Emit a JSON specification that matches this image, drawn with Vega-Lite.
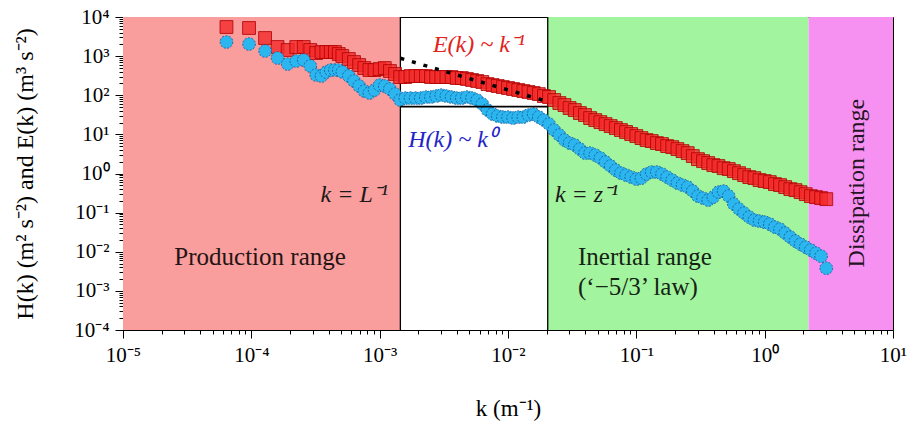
{
  "$schema": "https://vega.github.io/schema/vega-lite/v6.json",
  "width": 770,
  "height": 313,
  "autosize": "none",
  "padding": {"left": 123, "top": 17, "right": 14, "bottom": 101},
  "background": "white",
  "config": {
    "view": {"stroke": "black", "strokeWidth": 1},
    "axis": {
      "grid": false,
      "domainColor": "black",
      "tickColor": "black",
      "labelColor": "black",
      "titleColor": "black",
      "labelFont": "Liberation Serif",
      "titleFont": "Liberation Serif",
      "labelFontWeight": "normal",
      "titleFontWeight": "normal"
    },
    "style": {"guide-label": {"font": "Liberation Serif"}, "guide-title": {"font": "Liberation Serif"}}
  },
  "resolve": {"scale": {"x": "shared", "y": "shared"}, "axis": {"x": "independent", "y": "independent"}},
  "datasets": {
    "E": [{"k":6.4e-5,"v":5546},{"k":9.6e-5,"v":5234},{"k":1.28e-4,"v":2904},{"k":1.6e-4,"v":1710},{"k":1.92e-4,"v":1432},{"k":2.24e-4,"v":1710},{"k":2.56e-4,"v":1710},{"k":2.88e-4,"v":1432},{"k":3.2e-4,"v":1200},{"k":3.52e-4,"v":1274},{"k":3.84e-4,"v":1274},{"k":4.16e-4,"v":1274},{"k":4.48e-4,"v":1274},{"k":4.8e-4,"v":1132},{"k":5.12e-4,"v":1006},
      {"k":5.75e-4,"v":843},{"k":6.31e-4,"v":706},{"k":6.92e-4,"v":592},{"k":7.59e-4,"v":496},{"k":8.32e-4,"v":441},{"k":9.12e-4,"v":441},{"k":0.001,"v":468},{"k":0.001096,"v":496},{"k":0.001202,"v":416},{"k":0.001318,"v":349},{"k":0.001445,"v":292},{"k":0.001585,"v":292},{"k":0.001738,"v":310},{"k":0.001905,"v":310},{"k":0.002089,"v":310},{"k":0.002291,"v":310},{"k":0.002512,"v":292},{"k":0.002754,"v":292},{"k":0.00302,"v":292},{"k":0.003311,"v":292},{"k":0.003631,"v":292},{"k":0.003981,"v":275},{"k":0.004365,"v":275},{"k":0.004786,"v":260},{"k":0.005248,"v":245},{"k":0.005754,"v":231},{"k":0.00631,"v":218},{"k":0.006918,"v":193},{"k":0.007586,"v":182},{"k":0.008318,"v":172},{"k":0.00912,"v":162},{"k":0.01,"v":153},{"k":0.01096,"v":144},{"k":0.01202,"v":136},{"k":0.01318,"v":128},{"k":0.01445,"v":121},{"k":0.01585,"v":114},{"k":0.01738,"v":107},{"k":0.01905,"v":95.5},{"k":0.02089,"v":90},{"k":0.02291,"v":75.4},{"k":0.02512,"v":63.2},{"k":0.02754,"v":56.1},{"k":0.0302,"v":47.1},{"k":0.03311,"v":41.8},{"k":0.03631,"v":35.1},{"k":0.03981,"v":31.2},{"k":0.04365,"v":26.1},{"k":0.04786,"v":23.2},{"k":0.05248,"v":20.6},{"k":0.05754,"v":18.3},{"k":0.0631,"v":16.3},{"k":0.06918,"v":14.5},{"k":0.07586,"v":12.9},{"k":0.08318,"v":11.5},{"k":0.0912,"v":10.2},{"k":0.1,"v":9.06},{"k":0.1096,"v":8.04},{"k":0.1202,"v":7.15},{"k":0.1318,"v":6.74},{"k":0.1445,"v":5.99},{"k":0.1585,"v":5.65},{"k":0.1738,"v":5.02},{"k":0.1905,"v":4.73},{"k":0.2089,"v":4.21},{"k":0.2291,"v":3.74},{"k":0.2512,"v":3.32},{"k":0.2754,"v":2.79},{"k":0.302,"v":2.33},{"k":0.3311,"v":2.07},{"k":0.3631,"v":1.85},{"k":0.3981,"v":1.64},{"k":0.4365,"v":1.55},{"k":0.4786,"v":1.37},{"k":0.5248,"v":1.3},{"k":0.5754,"v":1.15},{"k":0.631,"v":1.02},{"k":0.6918,"v":0.91},{"k":0.7586,"v":0.809},{"k":0.8318,"v":0.762},{"k":0.912,"v":0.678},{"k":1.0,"v":0.64},{"k":1.096,"v":0.603},{"k":1.202,"v":0.536},{"k":1.318,"v":0.505},{"k":1.445,"v":0.449},{"k":1.585,"v":0.399},{"k":1.738,"v":0.376},{"k":1.905,"v":0.334},{"k":2.089,"v":0.297},{"k":2.291,"v":0.264},{"k":2.512,"v":0.249},{"k":2.754,"v":0.235},{"k":3.02,"v":0.221}],
    "H": [{"k":6.4e-5,"v":2296},{"k":9.6e-5,"v":2037},{"k":1.28e-4,"v":1350},{"k":1.6e-4,"v":894},{"k":1.92e-4,"v":628},{"k":2.24e-4,"v":750},{"k":2.56e-4,"v":794},{"k":2.88e-4,"v":558},{"k":3.2e-4,"v":329},{"k":3.52e-4,"v":310},{"k":3.84e-4,"v":392},{"k":4.16e-4,"v":441},{"k":4.48e-4,"v":441},{"k":4.8e-4,"v":441},{"k":5.12e-4,"v":392},
      {"k":5.75e-4,"v":310},{"k":6.31e-4,"v":231},{"k":6.92e-4,"v":172},{"k":7.59e-4,"v":128},{"k":8.32e-4,"v":114},{"k":9.12e-4,"v":136},{"k":0.001,"v":182},{"k":0.001096,"v":172},{"k":0.001202,"v":144},{"k":0.001318,"v":107},{"k":0.001445,"v":75.4},{"k":0.001585,"v":84.7},{"k":0.001738,"v":84.7},{"k":0.001905,"v":84.7},{"k":0.002089,"v":84.7},{"k":0.002291,"v":90},{"k":0.002512,"v":90},{"k":0.002754,"v":95.5},{"k":0.00302,"v":101},{"k":0.003311,"v":95.5},{"k":0.003631,"v":90},{"k":0.003981,"v":84.7},{"k":0.004365,"v":84.7},{"k":0.004786,"v":90},{"k":0.005248,"v":84.7},{"k":0.005754,"v":75.4},{"k":0.00631,"v":59.6},{"k":0.006918,"v":41.8},{"k":0.007586,"v":33},{"k":0.008318,"v":29.4},{"k":0.00912,"v":27.7},{"k":0.01,"v":27.7},{"k":0.01096,"v":26.1},{"k":0.01202,"v":27.7},{"k":0.01318,"v":27.7},{"k":0.01445,"v":31.2},{"k":0.01585,"v":33},{"k":0.01738,"v":27.7},{"k":0.01905,"v":23.2},{"k":0.02089,"v":18.3},{"k":0.02291,"v":12.9},{"k":0.02512,"v":9.6},{"k":0.02754,"v":7.15},{"k":0.0302,"v":5.99},{"k":0.03311,"v":5.32},{"k":0.03631,"v":4.21},{"k":0.03981,"v":3.32},{"k":0.04365,"v":3.32},{"k":0.04786,"v":2.96},{"k":0.05248,"v":2.48},{"k":0.05754,"v":1.96},{"k":0.0631,"v":1.55},{"k":0.06918,"v":1.22},{"k":0.07586,"v":1.02},{"k":0.08318,"v":0.91},{"k":0.0912,"v":0.809},{"k":0.1,"v":0.719},{"k":0.1096,"v":0.762},{"k":0.1202,"v":0.966},{"k":0.1318,"v":1.09},{"k":0.1445,"v":1.09},{"k":0.1585,"v":0.966},{"k":0.1738,"v":0.809},{"k":0.1905,"v":0.678},{"k":0.2089,"v":0.568},{"k":0.2291,"v":0.505},{"k":0.2512,"v":0.449},{"k":0.2754,"v":0.355},{"k":0.302,"v":0.264},{"k":0.3311,"v":0.235},{"k":0.3631,"v":0.209},{"k":0.3981,"v":0.249},{"k":0.4365,"v":0.334},{"k":0.4786,"v":0.355},{"k":0.5248,"v":0.264},{"k":0.5754,"v":0.165},{"k":0.631,"v":0.123},{"k":0.6918,"v":0.0971},{"k":0.7586,"v":0.0767},{"k":0.8318,"v":0.0643},{"k":0.912,"v":0.0607},{"k":1.0,"v":0.0571},{"k":1.096,"v":0.0508},{"k":1.202,"v":0.0426},{"k":1.318,"v":0.0378},{"k":1.445,"v":0.0299},{"k":1.585,"v":0.0236},{"k":1.738,"v":0.0187},{"k":1.905,"v":0.0156},{"k":2.089,"v":0.0131},{"k":2.291,"v":0.011},{"k":2.512,"v":0.0092},{"k":2.754,"v":0.0077},{"k":3.02,"v":0.0038}],
    "regions": [{"k1":1e-5,"k2":0.00145,"name":"Production"},{"k1":0.0204,"k2":2.2,"name":"Inertial"},{"k1":2.2,"k2":10,"name":"Dissipation"}],
    "bounds": [{"k":0.00145},{"k":0.0204}],
    "flat": [{"k":0.00145,"v":51},{"k":0.0204,"v":51}],
    "slope": [{"k":0.00145,"v":880},{"k":0.0204,"v":69}]
  },
  "layer": [
    {
      "data": {"name": "regions"},
      "mark": {"type": "rect"},
      "encoding": {
        "x": {"field": "k1", "type": "quantitative", "scale": {"type": "log", "domain": [1e-5, 10]}, "axis": null},
        "x2": {"field": "k2"},
        "y": {"datum": 0.0001, "type": "quantitative", "scale": {"type": "log", "domain": [0.0001, 10000]}, "axis": null},
        "y2": {"datum": 10000},
        "color": {"field": "name", "type": "nominal", "legend": null,
          "scale": {"domain": ["Production", "Inertial", "Dissipation"], "range": ["#f99d9d", "#a3f49e", "#f690f1"]}}
      }
    },
    {
      "data": {"name": "bounds"},
      "mark": {"type": "rule", "color": "black", "strokeWidth": 1.3},
      "encoding": {
        "x": {"field": "k", "type": "quantitative", "scale": {"type": "log", "domain": [1e-5, 10]}, "axis": null}
      }
    },
    {
      "data": {"name": "E"},
      "mark": {"type": "point", "shape": "square", "filled": true, "size": 165, "fill": "#f42a2a", "fillOpacity": 0.8, "stroke": "#b00000", "strokeWidth": 0.9, "strokeOpacity": 0.9},
      "encoding": {
        "x": {"field": "k", "type": "quantitative", "scale": {"type": "log", "domain": [1e-5, 10]},
          "axis": {
            "orient": "bottom",
            "title": "k (m⁻¹)",
            "values": [1e-5, 1e-4, 0.001, 0.01, 0.1, 1, 10],
            "labelExpr": "'10' + replace(replace(replace(replace(replace(replace(replace(''+round(log(datum.value)/LN10), '-', '⁻'), '0', '⁰'), '1', '¹'), '2', '²'), '3', '³'), '4', '⁴'), '5', '⁵')",
            "tickSize": 8,
            "labelFlush": false,
            "labelOverlap": false,
            "labelPadding": 6,
            "labelFont": "Liberation Serif",
            "titleFont": "Liberation Serif",
            "labelFontSize": 21,
            "titleFontSize": 23,
            "titlePadding": 32
          }
        },
        "y": {"field": "v", "type": "quantitative", "scale": {"type": "log", "domain": [0.0001, 10000]},
          "axis": {
            "orient": "left",
            "title": "H(k) (m² s⁻²) and E(k) (m³ s⁻²)",
            "values": [0.0001, 0.001, 0.01, 0.1, 1, 10, 100, 1000, 10000],
            "labelExpr": "'10' + replace(replace(replace(replace(replace(replace(replace(''+round(log(datum.value)/LN10), '-', '⁻'), '0', '⁰'), '1', '¹'), '2', '²'), '3', '³'), '4', '⁴'), '5', '⁵')",
            "tickSize": 8,
            "labelOverlap": false,
            "labelPadding": 6,
            "labelFont": "Liberation Serif",
            "titleFont": "Liberation Serif",
            "labelFontSize": 21,
            "titleFontSize": 24,
            "titlePadding": 36
          }
        }
      }
    },
    {
      "data": {"name": "H"},
      "mark": {"type": "point", "shape": "circle", "filled": true, "size": 160, "fill": "#2bb6ef", "fillOpacity": 1, "stroke": "#1b5c9c", "strokeWidth": 0.9, "strokeDash": [2, 1.5]},
      "encoding": {
        "x": {"field": "k", "type": "quantitative", "scale": {"type": "log", "domain": [1e-5, 10]},
          "axis": {
            "orient": "bottom",
            "title": null,
            "labels": false,
            "domain": false,
            "tickSize": 4,
            "values": [2e-5,3e-5,4e-5,5e-5,6e-5,7e-5,8e-5,9e-5,2e-4,3e-4,4e-4,5e-4,6e-4,7e-4,8e-4,9e-4,0.002,0.003,0.004,0.005,0.006,0.007,0.008,0.009,0.02,0.03,0.04,0.05,0.06,0.07,0.08,0.09,0.2,0.3,0.4,0.5,0.6,0.7,0.8,0.9,2,3,4,5,6,7,8,9]
          }
        },
        "y": {"field": "v", "type": "quantitative", "scale": {"type": "log", "domain": [0.0001, 10000]},
          "axis": {
            "orient": "left",
            "title": null,
            "labels": false,
            "domain": false,
            "tickSize": 4,
            "values": [0.0002,0.0003,0.0004,0.0005,0.0006,0.0007,0.0008,0.0009,0.002,0.003,0.004,0.005,0.006,0.007,0.008,0.009,0.02,0.03,0.04,0.05,0.06,0.07,0.08,0.09,0.2,0.3,0.4,0.5,0.6,0.7,0.8,0.9,2,3,4,5,6,7,8,9,20,30,40,50,60,70,80,90,200,300,400,500,600,700,800,900,2000,3000,4000,5000,6000,7000,8000,9000]
          }
        }
      }
    },
    {
      "data": {"name": "flat"},
      "mark": {"type": "line", "color": "black", "strokeWidth": 1.8},
      "encoding": {
        "x": {"field": "k", "type": "quantitative", "scale": {"type": "log", "domain": [1e-5, 10]}, "axis": null},
        "y": {"field": "v", "type": "quantitative", "scale": {"type": "log", "domain": [0.0001, 10000]}, "axis": null}
      }
    },
    {
      "data": {"name": "slope"},
      "mark": {"type": "line", "color": "black", "strokeWidth": 3.5, "strokeDash": [4, 8]},
      "encoding": {
        "x": {"field": "k", "type": "quantitative", "scale": {"type": "log", "domain": [1e-5, 10]}, "axis": null},
        "y": {"field": "v", "type": "quantitative", "scale": {"type": "log", "domain": [0.0001, 10000]}, "axis": null}
      }
    },
    {
      "data": {"values": [{"k": 0.00594, "v": 1923, "t": "E(k) ~ k⁻¹"}]},
      "mark": {"type": "text", "font": "Liberation Serif", "fontStyle": "italic", "fontSize": 24, "color": "#e3221c", "align": "center", "baseline": "middle"},
      "encoding": {
        "x": {"field": "k", "type": "quantitative", "scale": {"type": "log", "domain": [1e-5, 10]}, "axis": null},
        "y": {"field": "v", "type": "quantitative", "scale": {"type": "log", "domain": [0.0001, 10000]}, "axis": null},
        "text": {"field": "t"}
      }
    },
    {
      "data": {"values": [{"k": 0.00366, "v": 7.15, "t": "H(k) ~ k⁰"}]},
      "mark": {"type": "text", "font": "Liberation Serif", "fontStyle": "italic", "fontSize": 24, "color": "#2424c8", "align": "center", "baseline": "middle"},
      "encoding": {
        "x": {"field": "k", "type": "quantitative", "scale": {"type": "log", "domain": [1e-5, 10]}, "axis": null},
        "y": {"field": "v", "type": "quantitative", "scale": {"type": "log", "domain": [0.0001, 10000]}, "axis": null},
        "text": {"field": "t"}
      }
    },
    {
      "data": {"values": [{"k": 0.00116, "v": 0.28, "t": "k = L⁻¹"}]},
      "mark": {"type": "text", "font": "Liberation Serif", "fontStyle": "italic", "fontSize": 24, "color": "#1a1a1a", "align": "right", "baseline": "middle"},
      "encoding": {
        "x": {"field": "k", "type": "quantitative", "scale": {"type": "log", "domain": [1e-5, 10]}, "axis": null},
        "y": {"field": "v", "type": "quantitative", "scale": {"type": "log", "domain": [0.0001, 10000]}, "axis": null},
        "text": {"field": "t"}
      }
    },
    {
      "data": {"values": [{"k": 0.0232, "v": 0.28, "t": "k = z⁻¹"}]},
      "mark": {"type": "text", "font": "Liberation Serif", "fontStyle": "italic", "fontSize": 24, "color": "#1a1a1a", "align": "left", "baseline": "middle"},
      "encoding": {
        "x": {"field": "k", "type": "quantitative", "scale": {"type": "log", "domain": [1e-5, 10]}, "axis": null},
        "y": {"field": "v", "type": "quantitative", "scale": {"type": "log", "domain": [0.0001, 10000]}, "axis": null},
        "text": {"field": "t"}
      }
    },
    {
      "data": {"values": [{"k": 0.000117, "v": 0.00728, "t": "Production range"}]},
      "mark": {"type": "text", "font": "Liberation Serif", "fontSize": 25, "color": "#241414", "align": "center", "baseline": "middle"},
      "encoding": {
        "x": {"field": "k", "type": "quantitative", "scale": {"type": "log", "domain": [1e-5, 10]}, "axis": null},
        "y": {"field": "v", "type": "quantitative", "scale": {"type": "log", "domain": [0.0001, 10000]}, "axis": null},
        "text": {"field": "t"}
      }
    },
    {
      "data": {"values": [{"k": 0.0351, "v": 0.00728, "t": "Inertial range"}, {"k": 0.0351, "v": 0.001245, "t": "(‘−5/3’ law)"}]},
      "mark": {"type": "text", "font": "Liberation Serif", "fontSize": 25, "color": "#142414", "align": "left", "baseline": "middle"},
      "encoding": {
        "x": {"field": "k", "type": "quantitative", "scale": {"type": "log", "domain": [1e-5, 10]}, "axis": null},
        "y": {"field": "v", "type": "quantitative", "scale": {"type": "log", "domain": [0.0001, 10000]}, "axis": null},
        "text": {"field": "t"}
      }
    },
    {
      "data": {"values": [{"k": 5.24, "v": 0.568, "t": "Dissipation range"}]},
      "mark": {"type": "text", "font": "Liberation Serif", "fontSize": 24, "color": "#241424", "align": "center", "baseline": "middle", "angle": 270},
      "encoding": {
        "x": {"field": "k", "type": "quantitative", "scale": {"type": "log", "domain": [1e-5, 10]}, "axis": null},
        "y": {"field": "v", "type": "quantitative", "scale": {"type": "log", "domain": [0.0001, 10000]}, "axis": null},
        "text": {"field": "t"}
      }
    }
  ]
}
